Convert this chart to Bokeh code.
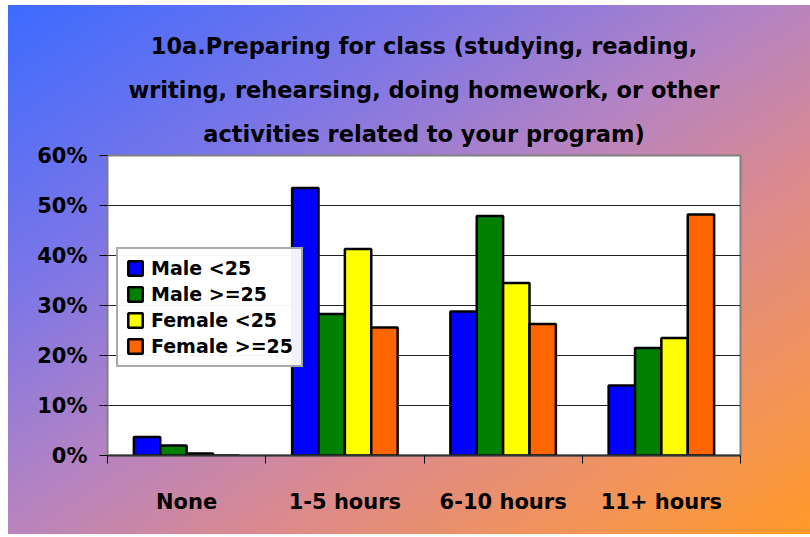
from bokeh.plotting import figure
from bokeh.models import (ColumnDataSource, FixedTicker, NumeralTickFormatter,
                          Legend, LegendItem, Range1d, Title)
from bokeh.embed import file_html
from bokeh.resources import INLINE

categories = ["None", "1-5 hours", "6-10 hours", "11+ hours"]
series_names = ["Male <25", "Male >=25", "Female <25", "Female >=25"]
male_lt25 = [0.037, 0.535, 0.288, 0.140]
male_ge25 = [0.020, 0.283, 0.479, 0.215]
female_lt25 = [0.004, 0.413, 0.345, 0.235]
female_ge25 = [0.000, 0.256, 0.263, 0.482]
colors = ["#0000ff", "#008000", "#ffff00", "#ff6600"]
title_lines = ["10a.Preparing for class (studying, reading,",
               "writing, rehearsing, doing homework, or other",
               "activities related to your program)"]

FONT = "DejaVu Sans"
series = [male_lt25, male_ge25, female_lt25, female_ge25]

p = figure(width=810, height=534, output_backend="svg", toolbar_location=None,
           x_range=Range1d(0, len(categories)), y_range=Range1d(0, 0.6),
           min_border_left=107, min_border_right=70, min_border_top=155, min_border_bottom=79,
           background_fill_color="white", border_fill_color=None, title_location=None)
p.styles = {
    "background-image": "linear-gradient(to bottom right, #3c6bff 0%, #7d76e6 28%, #b583c2 48%, #dc8a8c 66%, #f39456 85%, #ff9a28 100%)",
    "background-position": "8px 5px",
    "background-size": "calc(100% - 8px) calc(100% - 5px)",
    "background-repeat": "no-repeat",
}

for j, line in enumerate(reversed(title_lines)):
    p.add_layout(Title(text=line, align="center", text_font=FONT, text_font_style="bold",
                       text_font_size="22.5px", text_color="black",
                       standoff=(17 if j == 0 else 16)), "above")

bw = 1.0 / 6
items = []
for k, (vals, name, col) in enumerate(zip(series, series_names, colors)):
    xs = [i + 0.5 + (k - 1.5) * bw for i in range(len(categories))]
    src = ColumnDataSource(dict(x=xs, top=vals))
    r = p.vbar(x="x", top="top", bottom=0, width=bw, source=src, fill_color=col,
               line_color="black", line_width=2.5)
    items.append(LegendItem(label=name, renderers=[r]))

legend = Legend(items=items, location=(9, 88), background_fill_color="white",
                border_line_color="#555555", border_line_width=2,
                label_text_font=FONT, label_text_font_style="bold", label_text_font_size="19px",
                label_text_color="black",
                glyph_width=18, glyph_height=18, spacing=4, padding=8, margin=0,
                label_standoff=7, label_height=22)
p.add_layout(legend, "center")

# axes
p.yaxis.ticker = FixedTicker(ticks=[0, 0.1, 0.2, 0.3, 0.4, 0.5, 0.6])
p.yaxis.formatter = NumeralTickFormatter(format="0%")
p.yaxis.major_tick_out = 8
p.yaxis.major_tick_in = 0
p.yaxis.minor_tick_line_color = None
p.yaxis.axis_line_color = "#808080"
p.yaxis.axis_line_width = 1
p.yaxis.major_label_standoff = 12
p.yaxis.major_label_text_font = FONT
p.yaxis.major_label_text_font_style = "bold"
p.yaxis.major_label_text_font_size = "21px"
p.yaxis.major_label_text_color = "black"

p.xaxis.ticker = FixedTicker(ticks=[i + 0.5 for i in range(len(categories))],
                             minor_ticks=list(range(len(categories) + 1)))
p.xaxis.major_label_overrides = {i + 0.5: c for i, c in enumerate(categories)}
p.xaxis.major_tick_line_color = None
p.xaxis.minor_tick_out = 8
p.xaxis.minor_tick_in = 0
p.xaxis.minor_tick_line_color = "black"
p.xaxis.axis_line_color = "#333333"
p.xaxis.axis_line_width = 2
p.xaxis.major_label_standoff = 26
p.xaxis.major_label_text_font = FONT
p.xaxis.major_label_text_font_style = "bold"
p.xaxis.major_label_text_font_size = "21px"
p.xaxis.major_label_text_color = "black"

p.xgrid.grid_line_color = None
p.ygrid.grid_line_color = "#222222"
p.ygrid.grid_line_width = 1
p.outline_line_color = "#808080"
p.outline_line_width = 2

open("out.html", "w").write(file_html(p, INLINE))
